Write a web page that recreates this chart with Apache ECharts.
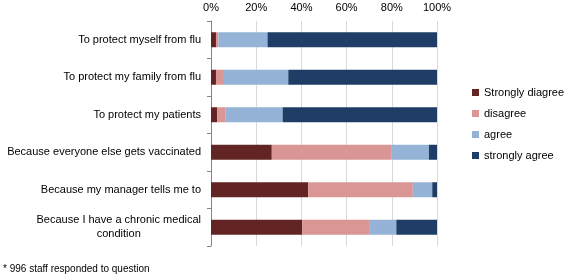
<!DOCTYPE html>
<html>
<head>
<meta charset="utf-8">
<script src="https://cdn.jsdelivr.net/npm/echarts@6/dist/echarts.min.js"></script>
<style>
  html, body { margin: 0; padding: 0; background: #fff; }
  #main { width: 566px; height: 278px; }
</style>
</head>
<body>
<div id="main"></div>
<script>
const reasons = [
  'To protect myself from flu',
  'To protect my family from flu',
  'To protect my patients',
  'Because everyone else gets vaccinated',
  'Because my manager tells me to',
  'Because I have a chronic medical\ncondition'
];
const stronglyDisagree = [2.2, 2.2, 2.8, 26.9, 43.0, 40.4];
const disagree = [1.1, 3.1, 3.7, 53.1, 46.3, 29.9];
const agree = [21.7, 28.9, 25.2, 16.4, 8.6, 11.7];
const stronglyAgree = [75.0, 65.8, 68.3, 3.6, 2.1, 18.0];
const xTicks = [0, 20, 40, 60, 80, 100];

window.onload = function () {
  const chart = echarts.init(document.getElementById('main'));
  const font = 'Liberation Sans, Arial, sans-serif';

  function bar(name, data, color) {
    return {
      name: name,
      type: 'bar',
      stack: 'total',
      barWidth: 15,
      data: data,
      itemStyle: { color: color },
      emphasis: { disabled: true }
    };
  }

  const option = {
    animation: false,
    textStyle: { fontFamily: font },
    grid: { left: 211, right: 129, top: 21, bottom: 32 },
    legend: {
      orient: 'vertical',
      left: 467,
      top: 82,
      itemWidth: 7,
      itemHeight: 7,
      itemGap: 10,
      icon: 'rect',
      textStyle: { fontSize: 11, color: '#000', fontFamily: font },
      data: ['Strongly diagree', 'disagree', 'agree', 'strongly agree']
    },
    xAxis: {
      type: 'value',
      position: 'top',
      min: xTicks[0],
      max: xTicks[xTicks.length - 1],
      interval: 20,
      axisLine: { show: false },
      axisTick: { show: false },
      axisLabel: {
        formatter: '{value}%',
        fontSize: 11,
        color: '#000',
        margin: 8
      },
      splitLine: { show: true, lineStyle: { color: '#d9d9d9', width: 1 } }
    },
    yAxis: {
      type: 'category',
      inverse: true,
      data: reasons,
      axisLine: { show: true, lineStyle: { color: '#868686' } },
      axisTick: { show: true, length: 4, lineStyle: { color: '#868686' } },
      axisLabel: {
        margin: 10,
        fontSize: 11,
        color: '#000',
        formatter: function (v) {
          return v.split('\n').map(function (s) { return '{c|' + s + '}'; }).join('\n');
        },
        rich: { c: { align: 'center', fontSize: 11, color: '#000', lineHeight: 14, fontFamily: font } }
      }
    },
    series: [
      bar('Strongly diagree', stronglyDisagree, '#632523'),
      bar('disagree', disagree, '#d99694'),
      bar('agree', agree, '#95b3d7'),
      bar('strongly agree', stronglyAgree, '#1f3d66')
    ],
    graphic: [{
      type: 'text',
      left: 3,
      top: 264,
      style: { text: '* 996 staff responded to question', fontSize: 10, fill: '#000', fontFamily: font }
    }]
  };

  chart.setOption(option);
};
</script>
</body>
</html>
